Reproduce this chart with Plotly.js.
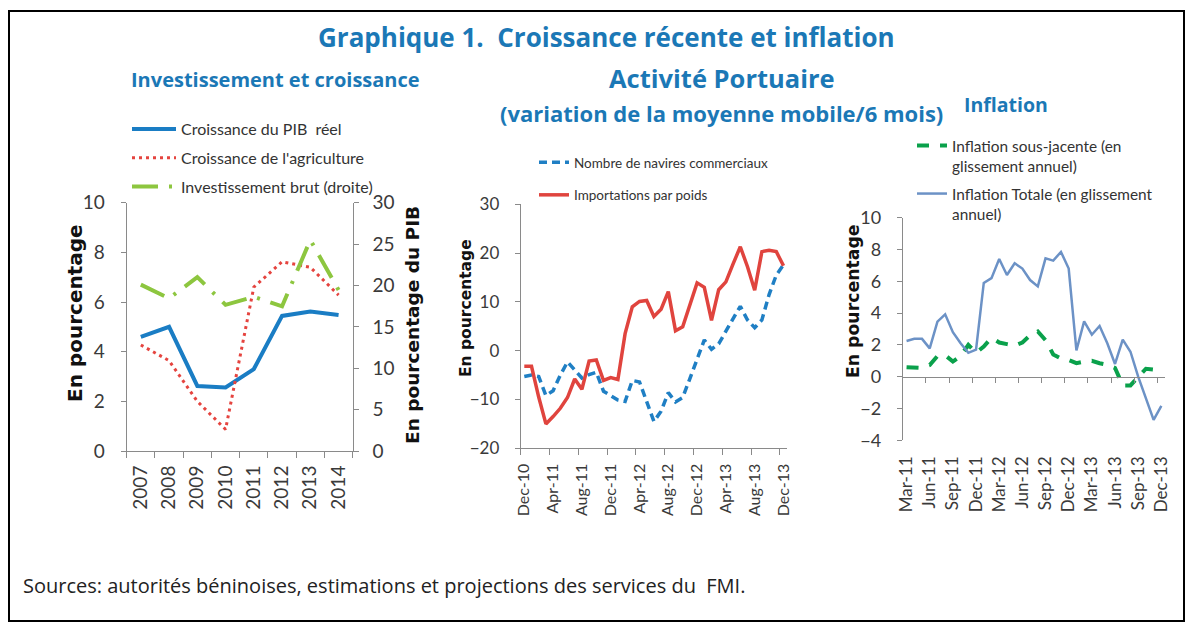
<!DOCTYPE html>
<html><head><meta charset="utf-8">
<script src="https://cdn.plot.ly/plotly-3.0.1.min.js"></script>
<style>html,body{margin:0;padding:0;background:#fff;} #chart{width:1191px;height:623px;}</style>
</head><body><div id="chart"></div>
<script>
// ---------- Data ----------
const yearCats = ['2007','2008','2009','2010','2011','2012','2013','2014'];
const pibGrowth = [4.6, 5.0, 2.62, 2.56, 3.3, 5.44, 5.62, 5.48];
const agriGrowth = [4.27, 3.64, 2.0, 0.87, 6.6, 7.62, 7.4, 6.28];
const grossInvest = [20.1, 18.45, 21.0, 17.66, 18.64, 17.48, 25.5, 19.45];

const portMonths = ['Dec-10','Jan-11','Feb-11','Mar-11','Apr-11','May-11','Jun-11','Jul-11','Aug-11','Sep-11','Oct-11','Nov-11',
  'Dec-11','Jan-12','Feb-12','Mar-12','Apr-12','May-12','Jun-12','Jul-12','Aug-12','Sep-12','Oct-12','Nov-12',
  'Dec-12','Jan-13','Feb-13','Mar-13','Apr-13','May-13','Jun-13','Jul-13','Aug-13','Sep-13','Oct-13','Nov-13','Dec-13'];
const shipsCount = [-5.3,-5.0,-5.3,-9.2,-8.2,-5.0,-2.3,-3.9,-5.6,-4.9,-4.4,-8.3,
  -9.3,-10.1,-10.4,-6.1,-6.4,-10.5,-14.5,-12.4,-8.6,-10.5,-9.6,-5.7,
  -1.7,2.2,0.3,1.4,4.0,6.6,9.1,6.3,4.7,6.3,11.5,15.5,17.6];
const importsWeight = [-3.2,-3.2,-9.5,-15.0,-13.5,-11.8,-9.6,-5.8,-7.9,-2.1,-1.9,-6.1,
  -5.5,-5.9,3.5,9.0,10.1,10.3,7.0,8.5,12.1,4.1,4.9,9.4,
  13.9,13.0,6.2,12.5,14.1,17.8,21.3,17.2,12.4,20.3,20.6,20.3,17.4];

const inflMonths = ['Mar-11','Apr-11','May-11','Jun-11','Jul-11','Aug-11','Sep-11','Oct-11','Nov-11','Dec-11',
  'Jan-12','Feb-12','Mar-12','Apr-12','May-12','Jun-12','Jul-12','Aug-12','Sep-12','Oct-12','Nov-12','Dec-12',
  'Jan-13','Feb-13','Mar-13','Apr-13','May-13','Jun-13','Jul-13','Aug-13','Sep-13','Oct-13','Nov-13','Dec-13'];
const coreInfl = [0.6,0.58,0.55,0.73,1.3,1.35,0.95,1.3,2.0,1.5,
  1.9,2.45,2.15,2.05,1.95,2.15,2.6,2.85,2.3,1.4,1.15,1.05,
  0.85,0.95,1.0,0.85,0.75,0.55,-0.55,-0.55,-0.05,0.5,0.45,0.55];
const totalInfl = [2.25,2.38,2.38,1.78,3.46,3.92,2.8,2.1,1.5,1.7,
  5.9,6.2,7.4,6.4,7.13,6.8,6.08,5.68,7.44,7.3,7.85,6.8,
  1.65,3.48,2.64,3.19,2.1,0.8,2.33,1.57,0.0,-1.3,-2.72,-1.84];

// ---------- Layout helpers ----------
const W = 1191, H = 623;
const px = v => v / W;
const py = v => 1 - v / H;
const idx = arr => arr.map((_, i) => i);
const everyN = (arr, n) => arr.filter((_, i) => i % n === 0);
const everyNIdx = (arr, n) => idx(arr).filter(i => i % n === 0);

const axisGray = '#8a8a8a';
const tickFont = (s) => ({family: 'Lato, "Open Sans", sans-serif', size: s, color: '#3a3a3a'});
const titleBlue = '#1b78b6';

// ---------- Traces ----------
const traces = [
  {x: idx(yearCats), y: pibGrowth, xaxis: 'x', yaxis: 'y', mode: 'lines', name: 'Croissance du PIB  réel',
   line: {color: '#1a7dc4', width: 4}, legend: 'legend', legendgroup: 'g1'},
  {x: idx(yearCats), y: agriGrowth, xaxis: 'x', yaxis: 'y', mode: 'lines', name: "Croissance de l'agriculture",
   line: {color: '#e5443f', width: 3, dash: '3px,4px'}, legend: 'legend', legendgroup: 'g2'},
  {x: idx(yearCats), y: grossInvest, xaxis: 'x', yaxis: 'y2', mode: 'lines', name: 'Investissement brut (droite)',
   line: {color: '#8dc63f', width: 4, dash: '26px,11px,3px,11px'}, legend: 'legend', legendgroup: 'g3'},

  {x: idx(portMonths), y: shipsCount, xaxis: 'x2', yaxis: 'y3', mode: 'lines', name: 'Nombre de navires commerciaux',
   line: {color: '#1f7fc4', width: 3.5, dash: '8px,5px'}, legend: 'legend2', legendgroup: 'p1'},
  {x: idx(portMonths), y: importsWeight, xaxis: 'x2', yaxis: 'y3', mode: 'lines', name: 'Importations par poids',
   line: {color: '#e0443e', width: 3.5}, legend: 'legend2', legendgroup: 'p2'},

  {x: idx(inflMonths), y: coreInfl, xaxis: 'x3', yaxis: 'y4', mode: 'lines', name: 'Inflation sous-jacente (en<br>glissement annuel)',
   line: {color: '#0aa14b', width: 4, dash: '12px,11px'}, legend: 'legend3', legendgroup: 'i1'},
  {x: idx(inflMonths), y: totalInfl, xaxis: 'x3', yaxis: 'y4', mode: 'lines', name: 'Inflation Totale (en glissement<br>annuel)',
   line: {color: '#6c92c6', width: 2.5}, legend: 'legend3', legendgroup: 'i2'}
];

// ---------- Axes ----------
const yDom4 = [py(440.3), py(217.7)];
const yRange4 = [-4, 10];
const zeroPos = yDom4[0] + (0 - yRange4[0]) / (yRange4[1] - yRange4[0]) * (yDom4[1] - yDom4[0]);

const baseY = {showgrid: false, zeroline: false, showline: true, linecolor: axisGray, linewidth: 1,
  ticks: 'outside', ticklen: 5, tickcolor: axisGray, fixedrange: true};
const baseX = {showgrid: false, zeroline: false, showline: true, linecolor: axisGray, linewidth: 1,
  ticks: '', tickangle: -90, fixedrange: true};

function ann(text, x, y, font, extra) {
  return Object.assign({text: text, x: px(x), y: py(y), xref: 'paper', yref: 'paper', xanchor: 'center', yanchor: 'middle',
    showarrow: false, font: font}, extra || {});
}
const titleFont = s => ({family: '"Open Sans", sans-serif', size: s, color: titleBlue});
const axTitleFont = s => ({family: '"DejaVu Sans", sans-serif', size: s, color: '#111'});
const legFont = s => ({family: 'Lato, sans-serif', size: s, color: '#333'});

const layout = {
  width: W, height: H, margin: {l: 0, r: 0, t: 0, b: 0},
  paper_bgcolor: '#fff', plot_bgcolor: 'rgba(0,0,0,0)', showlegend: true,
  xaxis: Object.assign({}, baseX, {domain: [px(126.7), px(352.7)], range: [-0.5, 7.5], anchor: 'y',
    tickmode: 'array', tickvals: idx(yearCats), ticktext: yearCats, tickfont: tickFont(19), ticklabelstandoff: 6,
    minor: {tickmode: 'linear', tick0: -0.5, dtick: 1, ticks: 'outside', ticklen: 6, tickcolor: axisGray, showgrid: false}}),
  yaxis: Object.assign({}, baseY, {domain: [py(451), py(202.7)], range: [0, 10], dtick: 2, anchor: 'x',
    tickfont: tickFont(19), ticklabelstandoff: 12}),
  yaxis2: Object.assign({}, baseY, {overlaying: 'y', side: 'right', anchor: 'x', range: [0, 30], dtick: 5,
    tickfont: tickFont(19), ticklabelstandoff: 10}),

  xaxis2: Object.assign({}, baseX, {domain: [px(520.7), px(787.1)], range: [-0.5, 36.5], anchor: 'y3',
    tickmode: 'array', tickvals: everyNIdx(portMonths, 4), ticktext: everyN(portMonths, 4), tickfont: tickFont(16), ticklabelstandoff: 8,
    minor: {tickmode: 'linear', tick0: -0.5, dtick: 4, ticks: 'outside', ticklen: 6, tickcolor: axisGray, showgrid: false}}),
  yaxis3: Object.assign({}, baseY, {domain: [py(448.3), py(204.3)], range: [-20, 30], dtick: 10, anchor: 'x2',
    tickfont: tickFont(17), ticklabelstandoff: 12}),

  xaxis3: Object.assign({}, baseX, {domain: [px(902.7), px(1165.2)], range: [-0.5, 33.5], anchor: 'free', position: zeroPos,
    tickmode: 'array', tickvals: everyNIdx(inflMonths, 3), ticktext: everyN(inflMonths, 3), tickfont: tickFont(17), ticklabelstandoff: 72,
    minor: {tickmode: 'linear', tick0: -0.5, dtick: 3, ticks: 'outside', ticklen: 5, tickcolor: axisGray, showgrid: false}}),
  yaxis4: Object.assign({}, baseY, {domain: yDom4, range: yRange4, dtick: 2, anchor: 'x3',
    tickfont: tickFont(18), ticklabelstandoff: 12}),

  legend: {x: px(127), y: py(112), xanchor: 'left', yanchor: 'top', bgcolor: 'rgba(0,0,0,0)', itemwidth: 44,
    font: legFont(16), tracegroupgap: 5, traceorder: 'grouped'},
  legend2: {x: px(534), y: py(147), xanchor: 'left', yanchor: 'top', bgcolor: 'rgba(0,0,0,0)',
    font: legFont(13.5), tracegroupgap: 12, traceorder: 'grouped'},
  legend3: {x: px(912), y: py(129), xanchor: 'left', yanchor: 'top', bgcolor: 'rgba(0,0,0,0)', valign: 'top',
    font: legFont(15.4), tracegroupgap: 5, traceorder: 'grouped'},

  shapes: [
    {type: 'rect', xref: 'paper', yref: 'paper', x0: px(9), x1: px(1184), y0: py(11), y1: py(621),
     line: {color: '#000', width: 2}, fillcolor: 'rgba(0,0,0,0)'}
  ],
  annotations: [
    ann('<b>Graphique 1.  Croissance récente et inflation</b>', 606, 37, titleFont(26)),
    ann('<b>Investissement et croissance</b>', 275, 80, titleFont(20)),
    ann('<b>Activité Portuaire</b>', 722, 78, titleFont(25.5)),
    ann('<b>(variation de la moyenne mobile/6 mois)</b>', 721, 113, titleFont(22)),
    ann('<b>Inflation</b>', 1006, 105, titleFont(19.5)),
    ann('<b>En pourcentage</b>', 75, 313, axTitleFont(20), {textangle: -90}),
    ann('<b>En pourcentage du PIB</b>', 412, 325, axTitleFont(18.5), {textangle: -90}),
    ann('<b>En pourcentage</b>', 466, 308, axTitleFont(15.5), {textangle: -90}),
    ann('<b>En pourcentage</b>', 853, 302, axTitleFont(17.3), {textangle: -90}),
    ann('Sources: autorités béninoises, estimations et projections des services du  FMI.', 21, 585,
      {family: '"Open Sans", sans-serif', size: 20, color: '#222'}, {xanchor: 'left'})
  ]
};

Plotly.newPlot('chart', traces, layout, {staticPlot: true, displayModeBar: false});
</script>
</body></html>
